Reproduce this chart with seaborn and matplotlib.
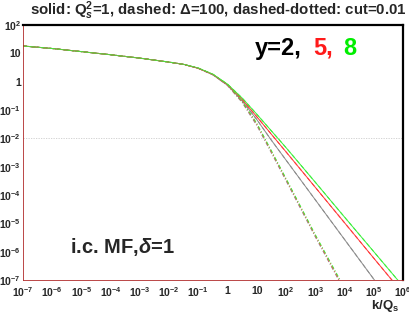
import numpy as np
import pandas as pd
import matplotlib
matplotlib.use("Agg")
import matplotlib.pyplot as plt
import seaborn as sns
from matplotlib.ticker import LogLocator, FixedLocator, FixedFormatter, NullFormatter

sns.set_style("white")
plt.rcParams['font.family'] = ['Liberation Sans', 'DejaVu Sans']
plt.rcParams['font.weight'] = 'bold'
plt.rcParams['mathtext.fontset'] = 'custom'
plt.rcParams['mathtext.rm'] = 'Liberation Sans:bold'
plt.rcParams['mathtext.bf'] = 'Liberation Sans:bold'
plt.rcParams['mathtext.it'] = 'Liberation Sans:bold:italic'
plt.rcParams['mathtext.sf'] = 'Liberation Sans:bold'

# ---- data (log10 k, log10 phi) ----
logk_y2 = [-7, -6, -5, -4, -3, -2, -1.5, -1, -0.5, 0, 0.5, 1.0, 1.5, 2, 3, 4, 5, 5.1]
logphi_y2 = [1.26, 1.17, 1.06, 0.95, 0.83, 0.69, 0.61, 0.47, 0.24, -0.13, -0.68, -1.34, -2.07, -2.77, -4.17, -5.57, -6.97, -7.1]

logk_y5 = [-7, -6, -5, -4, -3, -2, -1.5, -1, -0.5, 0, 0.5, 1.0, 1.5, 2, 3, 4, 5, 5.7]
logphi_y5 = [1.26, 1.17, 1.06, 0.95, 0.83, 0.69, 0.61, 0.47, 0.25, -0.11, -0.63, -1.24, -1.86, -2.48, -3.73, -4.98, -6.23, -7.1]

logk_y8 = [-7, -6, -5, -4, -3, -2, -1.5, -1, -0.5, 0, 0.5, 1.0, 1.5, 2, 3, 4, 5, 5.9]
logphi_y8 = [1.26, 1.17, 1.06, 0.95, 0.83, 0.69, 0.61, 0.48, 0.26, -0.09, -0.58, -1.15, -1.74, -2.33, -3.55, -4.78, -6.0, -7.1]

logk_cut = [-7, -6, -5, -4, -3, -2, -1.5, -1, -0.5, 0, 0.5, 1.0, 1.5, 2, 3, 3.85]
logphi_cut_y2 = [1.26, 1.17, 1.06, 0.95, 0.83, 0.69, 0.61, 0.47, 0.24, -0.14, -0.74, -1.55, -2.52, -3.5, -5.48, -7.1]
logphi_cut_y5 = [1.26, 1.17, 1.06, 0.95, 0.83, 0.69, 0.61, 0.47, 0.25, -0.12, -0.71, -1.5, -2.47, -3.45, -5.43, -7.05]
logphi_cut_y8 = [1.26, 1.17, 1.06, 0.95, 0.83, 0.69, 0.61, 0.48, 0.26, -0.10, -0.69, -1.47, -2.44, -3.42, -5.40, -7.0]

x_ticks = [1e-7, 1e-6, 1e-5, 1e-4, 1e-3, 1e-2, 1e-1, 1, 10, 1e2, 1e3, 1e4, 1e5, 1e6]
x_ticklabels = ['$10^{-7}$', '$10^{-6}$', '$10^{-5}$', '$10^{-4}$', '$10^{-3}$', '$10^{-2}$',
                '$10^{-1}$', '1', '10', '$10^{2}$', '$10^{3}$', '$10^{4}$', '$10^{5}$', '$10^{6}$']
y_ticks = [1e-7, 1e-6, 1e-5, 1e-4, 1e-3, 1e-2, 1e-1, 1, 10, 1e2]
y_ticklabels = ['$10^{-7}$', '$10^{-6}$', '$10^{-5}$', '$10^{-4}$', '$10^{-3}$', '$10^{-2}$',
                '$10^{-1}$', '1', '10', '$10^{2}$']

GRAY, RED, GREEN = '#8c8c8c', '#ff3a3a', '#3cf03c'
series = [
    (logk_y2, logphi_y2, GRAY, '-'),
    (logk_y5, logphi_y5, RED, '-'),
    (logk_y8, logphi_y8, GREEN, '-'),
    (logk_y2, logphi_y2, GRAY, (0, (4, 3))),
    (logk_y5, logphi_y5, RED, (0, (4, 3))),
    (logk_y8, logphi_y8, GREEN, (0, (4, 3))),
    (logk_cut, logphi_cut_y2, GRAY, (0, (4, 2, 1, 2))),
    (logk_cut, logphi_cut_y5, RED, (0, (4, 2, 1, 2))),
    (logk_cut, logphi_cut_y8, GREEN, (0, (4, 2, 1, 2))),
]

fig = plt.figure(figsize=(4.09, 3.14), dpi=100)
ax = fig.add_axes([23/409, 1-280/314, 380/409, 255/314])

ax.axhline(1e-2, color='#cccccc', ls=(0, (1.5, 1.5)), lw=0.6, zorder=0)

for lk, lp, c, ls in series:
    df = pd.DataFrame({'k': 10**np.asarray(lk, float), 'phi': 10**np.asarray(lp, float)})
    sns.lineplot(data=df, x='k', y='phi', ax=ax, color=c, linestyle=ls, lw=0.7, sort=True,
                 estimator=None)

ax.set_xscale('log')
ax.set_yscale('log')
ax.set_xlim(1e-7, 1e6)
ax.set_ylim(1e-7, 1e2)

ax.xaxis.set_major_locator(FixedLocator(x_ticks))
ax.xaxis.set_major_formatter(FixedFormatter(x_ticklabels))
ax.yaxis.set_major_locator(FixedLocator(y_ticks))
ax.yaxis.set_major_formatter(FixedFormatter(y_ticklabels))
ax.xaxis.set_minor_locator(LogLocator(base=10, subs=np.arange(2, 10), numticks=100))
ax.yaxis.set_minor_locator(LogLocator(base=10, subs=np.arange(2, 10), numticks=100))
ax.xaxis.set_minor_formatter(NullFormatter())
ax.yaxis.set_minor_formatter(NullFormatter())

ax.tick_params(axis='y', which='major', direction='in', length=7, width=0.8, color='black',
               labelsize=7.5, pad=1.5)
ax.tick_params(axis='y', which='minor', direction='in', length=5, width=0.6, color='#333333')
ax.tick_params(axis='x', which='major', direction='in', length=5, width=0.8, color='black',
               labelsize=7.5, pad=4)
ax.tick_params(axis='x', which='minor', direction='in', length=2.5, width=0.6, color='#333333')
ax.set_xlabel('')
ax.set_ylabel('')

for side in ['left', 'bottom']:
    ax.spines[side].set_color('#b02828')
    ax.spines[side].set_linewidth(0.6)
for side in ['top', 'right']:
    ax.spines[side].set_color('black')
    ax.spines[side].set_linewidth(1.6)

fig.text(218/409, 1-15/314, 'solid: Q$_s^2$=1, dashed: $\\Delta$=100, dashed-dotted: cut=0.01',
         ha='center', va='baseline', fontsize=10.8, fontweight='bold')
fig.text(255/409, 1-55/314, 'y=2,', fontsize=17, fontweight='bold', color='black', va='baseline')
fig.text(313/409, 1-55/314, '5,', fontsize=17, fontweight='bold', color='#ff1a1a', va='baseline')
fig.text(343/409, 1-55/314, '8', fontsize=17, fontweight='bold', color='#00ee00', va='baseline')
fig.text(70/409, 1-253/314, 'i.c. MF,$\\delta$=1', fontsize=14.5, fontweight='bold', va='baseline')
fig.text(399/409, 1-309/314, 'k/Q$_\\mathrm{s}$', fontsize=9.5, fontweight='bold', ha='right', va='baseline')

fig.savefig('out.png', dpi=100)
